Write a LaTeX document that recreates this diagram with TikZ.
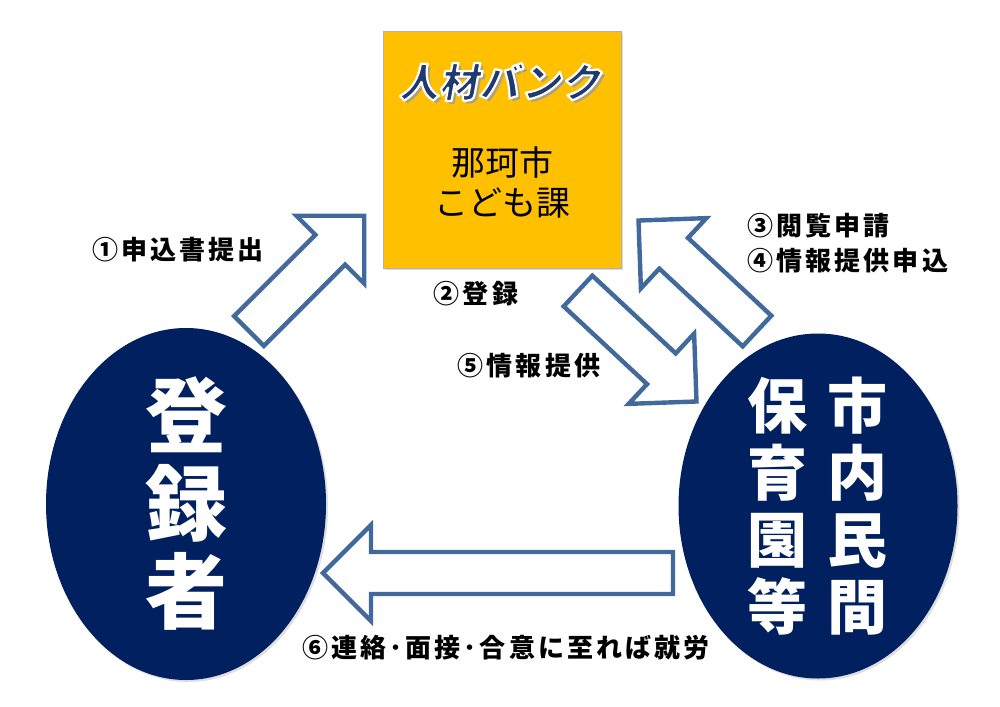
\documentclass[tikz,border=0pt]{standalone}
\usepackage{fontspec}
\usetikzlibrary{shapes.geometric,shadows,positioning}

\newfontfamily\jp{Noto Sans CJK JP}
\newfontfamily\jptitle{Noto Sans CJK JP}[FakeSlant=0.18]
\newfontfamily\jplab{Noto Sans CJK JP}[LetterSpace=12]

\definecolor{bankyellow}{HTML}{FFC000}
\definecolor{navyfill}{HTML}{002060}
\definecolor{titlenavy}{HTML}{1F3A70}
\definecolor{arrowblue}{HTML}{41699B}

% text with a white rim: fill and stroke the glyphs
\newcommand{\rimtext}[1]{\special{pdf:literal direct 2 Tr 1.1 w 1 j 1 1 1 RG}#1\special{pdf:literal direct 0 Tr}}

% block arrow, drawn from its tail; the argument is the length
\tikzset{pics/blockarrow/.style={code={
  \draw[arrowline] (0,-21) -- ({#1-48},-21) -- ({#1-48},-48) -- (#1,0)
    -- ({#1-48},48) -- ({#1-48},21) -- (0,21) -- cycle;}}}

\begin{document}
\begin{tikzpicture}[x=0.5pt, y=-0.5pt,
  arrowline/.style={draw=arrowblue, fill=white, line width=2.2pt, line join=miter},
  bankbox/.style={draw=black!30, fill=bankyellow, minimum width=119pt, minimum height=118.5pt, inner sep=0pt,
    drop shadow={shadow xshift=1.2pt, shadow yshift=-1.2pt, opacity=0.3}},
  party/.style={ellipse, fill=navyfill, inner sep=0pt,
    drop shadow={shadow xshift=1pt, shadow yshift=-1pt, opacity=0.25}},
  titlefont/.style={font=\jptitle\bfseries\fontsize{20}{22}\selectfont},
  bigtext/.style={text=white, align=center, font=\jp\bfseries\fontsize{41}{44}\selectfont},
  midtext/.style={text=white, align=center, font=\jp\bfseries\fontsize{30}{33.5}\selectfont},
  steplabel/.style={font=\jplab\bfseries\fontsize{13}{20}\selectfont, inner sep=0pt},
]
\useasboundingbox (0,0) rectangle (1000,706);
\fill[white] (0,0) rectangle (1000,706);

% the bank and the two parties
\node[bankbox] (bank) at (502,149.5) {};
\node[titlefont, text=black!40, opacity=0.8] (titleshade) at (503.5,85) {人材バンク};
\node[titlefont, text=titlenavy] (title) at (500,82) {\rimtext{人材バンク}};
\node[align=center, font=\jp\fontsize{17}{20}\selectfont] (office) at (502,182) {那珂市\\こども課};

\node[party, minimum width=140pt, minimum height=176pt] (reg) at (186,504) {};
\node[bigtext] (regname) at (reg.center) {登\\録\\者};

\node[party, minimum width=139.5pt, minimum height=172.5pt] (nursery) at (818,506) {};
\node[midtext, xshift=19.5pt] (citycol) at (nursery.center) {市\\内\\民\\間};
\node[midtext, xshift=-20.5pt] (nurscol) at (nursery.center) {保\\育\\園\\等};

% arrows
\coordinate (a1) at (249,331);
\coordinate (a2) at (757,331);
\coordinate (a3) at (578,291);
\coordinate (a4) at (673,573);
\pic[rotate=45] at (a1) {blockarrow=163};
\pic[rotate=137] at (a2) {blockarrow=162};
\pic[rotate=-43] at (a3) {blockarrow=162};
\pic[rotate=180] at (a4) {blockarrow=350};

% step labels
\node[steplabel] (s1) at (178,250) {①申込書提出};
\node[steplabel] (s2) at (476,294) {②登録};
\node[steplabel, anchor=west] (s3) at (747,226) {③閲覧申請};
\node[steplabel, anchor=west] (s4) at (747,261) {④情報提供申込};
\node[steplabel] (s5) at (529,366) {⑤情報提供};
\node[steplabel] (s6) at (506,648) {⑥連絡･面接･合意に至れば就労};

\end{tikzpicture}
\end{document}
